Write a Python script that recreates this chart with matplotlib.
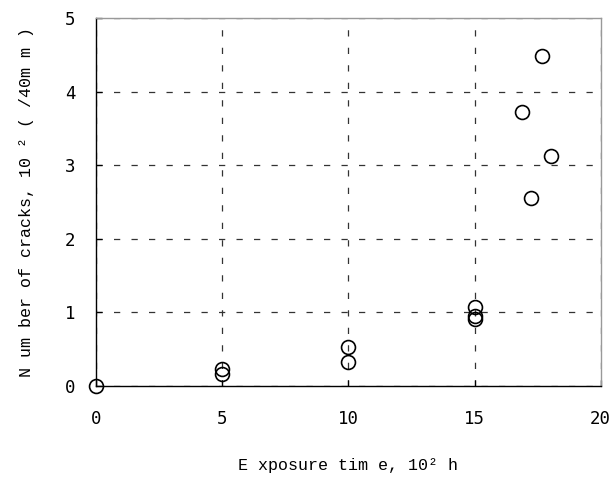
import matplotlib
matplotlib.use("Agg")
import matplotlib.pyplot as plt

exposure_time = [0, 5, 5, 10, 10, 15, 15, 15, 16.87, 17.23, 17.69, 18.03]
num_cracks = [0, 0.23, 0.17, 0.53, 0.33, 1.08, 0.95, 0.91, 3.72, 2.55, 4.49, 3.13]
x_ticks = [0, 5, 10, 15, 20]
y_ticks = [0, 1, 2, 3, 4, 5]

fig = plt.figure(figsize=(6.13, 4.83), dpi=100)
ax = fig.add_axes([0.1566, 0.2008, 0.8234, 0.7619])

ax.plot(exposure_time, num_cracks, linestyle='none', marker='o', markersize=10,
        markerfacecolor='none', markeredgecolor='black', markeredgewidth=1.2,
        clip_on=False, zorder=5)

ax.set_xlim(0, 20)
ax.set_ylim(0, 5)
ax.set_xticks(x_ticks)
ax.set_yticks(y_ticks)
ax.grid(True, linestyle=(0, (5, 9)), color='#333333', linewidth=0.9)
ax.set_axisbelow(True)

for s in ['left', 'bottom']:
    ax.spines[s].set_color('black')
    ax.spines[s].set_linewidth(1.0)
for s in ['top', 'right']:
    ax.spines[s].set_color('#999999')
    ax.spines[s].set_linewidth(1.0)

ax.tick_params(axis='both', direction='in', length=4, width=0.9, labelsize=12.5)
ax.tick_params(axis='x', pad=17)
ax.tick_params(axis='y', pad=15)
for lab in ax.get_xticklabels() + ax.get_yticklabels():
    lab.set_family('DejaVu Sans Mono')

ax.set_xlabel('E xposure tim e, 10² h', family='Liberation Mono', fontsize=12, labelpad=22)
ax.set_ylabel('N um ber of cracks, 10 ² ( /40m m )', family='Liberation Mono', fontsize=12, labelpad=22)

fig.savefig('out.png', dpi=100)
